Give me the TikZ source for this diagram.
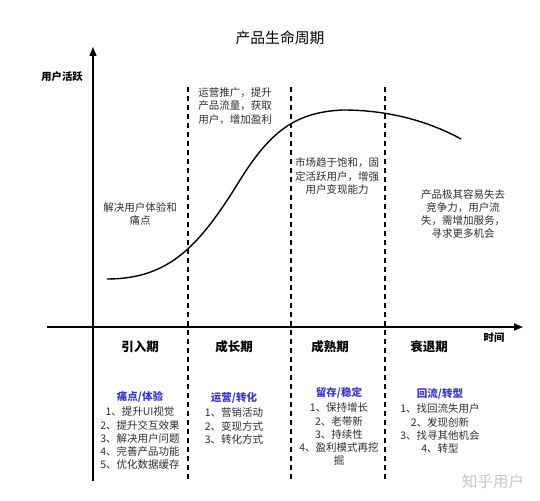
\documentclass[tikz,border=0pt]{standalone}
\usepackage{fontspec}
\setmainfont{Noto Sans CJK SC}
\usetikzlibrary{arrows.meta,positioning}

\definecolor{headblue}{RGB}{58,58,200}
\definecolor{bodygray}{RGB}{45,45,45}

\tikzset{
  axis/.style={line width=1.4pt,-{Triangle[length=9pt,width=7pt]}},
  phaseline/.style={line width=1.3pt,dash pattern=on 5pt off 4pt},
  note/.style={align=center,text=bodygray,inner sep=0pt,font=\fontsize{10.5}{13.3}\selectfont},
  phasename/.style={inner sep=0pt,font=\fontsize{12.5}{15}\selectfont\bfseries},
  axislabel/.style={inner sep=0pt,font=\fontsize{10.3}{12}\selectfont\bfseries},
  listhead/.style={inner sep=0pt,text=headblue,font=\fontsize{10.5}{13}\selectfont\bfseries},
  listbody/.style={align=center,text=bodygray,inner sep=0pt,font=\fontsize{10.5}{13.3}\selectfont}
}

\begin{document}
\begin{tikzpicture}[x=1pt,y=-1pt]
\useasboundingbox (0,0) rectangle (540,500);

\node (title) at (280,38) {\fontsize{14.8}{17}\selectfont 产品生命周期};

% axes
\coordinate (yfoot) at (93,481);
\coordinate (ytip) at (93,47);
\coordinate (xfoot) at (47,327);
\coordinate (xtip) at (523,327);
\draw[axis] (yfoot) -- (ytip);
\draw[axis] (xfoot) -- (xtip);
\node[axislabel] (ylabel) at (62,77) {用户活跃};
\node[axislabel] (xlabel) at (494,338) {时间};

% phase borders
\foreach \i/\x in {1/188,2/291,3/385}{
  \coordinate (top\i) at (\x,87);
  \coordinate (bot\i) at (\x,479);
  \draw[phaseline] (top\i) -- (bot\i);
}

% life curve
\draw[line width=1.4pt] (107,279) .. controls (170,279) and (200,245) .. (240,180)
  .. controls (270,132) and (295,112) .. (343,110)
  .. controls (390,110) and (430,122) .. (461,139);

% notes along the curve
\node[note] (intro) at (140,214) {解决用户体验和\\痛点};
\node[note] (growth) at (235,106) {运营推广，提升\\产品流量，获取\\用户，增加盈利};
\node[note] (mature) at (337,176) {市场趋于饱和，固\\定活跃用户，增强\\用户变现能力};
\node[note] (decline) at (463,214) {产品极其容易失去\\竞争力，用户流\\失，需增加服务，\\寻求更多机会};

% phase names
\foreach \n/\x/\t in {p1/140/引入期,p2/234/成长期,p3/330/成熟期,p4/429/衰退期}
  \node[phasename] (\n) at (\x,347) {\t};

% lists
\node[listhead] (h1) at (140,397) {痛点/体验};
\node[listbody,below=4pt of h1] (l1) {1、提升UI视觉\\2、提升交互效果\\3、解决用户问题\\4、完善产品功能\\5、优化数据缓存};

\node[listhead] (h2) at (234,398) {运营/转化};
\node[listbody,below=4pt of h2] (l2) {1、营销活动\\2、变现方式\\3、转化方式};

\node[listhead] (h3) at (339,393) {留存/稳定};
\node[listbody,below=4pt of h3] (l3) {1、保持增长\\2、老带新\\3、持续性\\4、盈利模式再挖\\掘};

\node[listhead] (h4) at (440,394) {回流/转型};
\node[listbody,below=4pt of h4] (l4) {1、找回流失用户\\2、发现创新\\3、找寻其他机会\\4、转型};

\node[text=black!22,inner sep=0pt,font=\fontsize{15.5}{17}\selectfont] (mark) at (493,482) {知乎用户};

\end{tikzpicture}
\end{document}
